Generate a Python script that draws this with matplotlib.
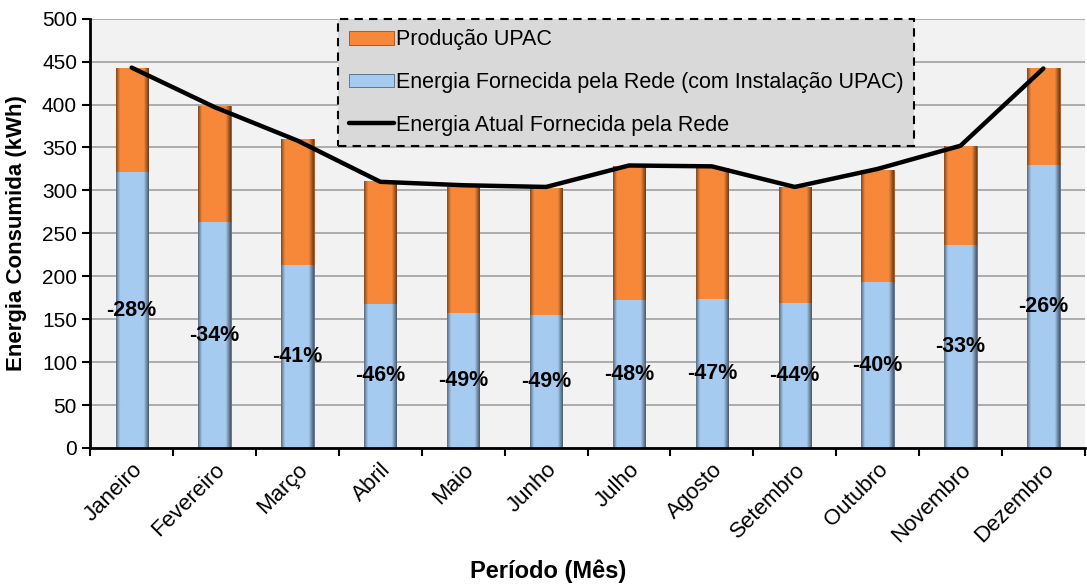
import matplotlib.pyplot as plt
import numpy as np

plt.rcParams['font.family'] = ['Liberation Sans', 'DejaVu Sans']

meses = ["Janeiro", "Fevereiro", "Março", "Abril", "Maio", "Junho",
         "Julho", "Agosto", "Setembro", "Outubro", "Novembro", "Dezembro"]
rede_upac = [321, 263, 213, 168, 157, 155, 172, 174, 169, 193, 236, 329]
producao = [122, 135, 147, 143, 147, 148, 156, 152, 135, 131, 116, 113]
atual = [443, 397, 358, 310, 306, 304, 329, 328, 304, 325, 352, 442]
reducao = ["-28%", "-34%", "-41%", "-46%", "-49%", "-49%",
           "-48%", "-47%", "-44%", "-40%", "-33%", "-26%"]

orange = "#F7883A"
blue = "#A6CBF0"


def bevel(ax, bars, color):
    # horizontal shading so the bars look a bit like the beveled Excel ones
    base = np.array(plt.matplotlib.colors.to_rgb(color))
    prof = np.ones(60)
    prof[:8] = np.linspace(0.55, 1.0, 8)
    prof[-10:] = np.linspace(1.0, 0.45, 10)
    img = np.clip(base[None, None, :] * prof[None, :, None], 0, 1)
    for b in bars:
        x0, y0 = b.get_x(), b.get_y()
        x1, y1 = x0 + b.get_width(), y0 + b.get_height()
        im = ax.imshow(img, extent=[x0, x1, y0, y1], aspect="auto",
                       zorder=2.1, interpolation="bilinear")
        im.set_clip_path(b)


fig = plt.figure(figsize=(10.87, 5.84), dpi=100)
ax = fig.add_axes([0.083, 0.233, 0.915, 0.735])
ax.set_facecolor("#F2F2F2")

x = np.arange(len(meses))
w = 0.39
b1 = ax.bar(x, rede_upac, w, color=blue, edgecolor="#4F6780", linewidth=0.6,
            label="Energia Fornecida pela Rede (com Instalação UPAC)", zorder=2)
b2 = ax.bar(x, producao, w, bottom=rede_upac, color=orange, edgecolor="#9A4E18",
            linewidth=0.6, label="Produção UPAC", zorder=2)
bevel(ax, b1, blue)
bevel(ax, b2, orange)
ax.plot(x, atual, color="black", lw=3.2, solid_capstyle="round",
        label="Energia Atual Fornecida pela Rede", zorder=3)

for xi, b, t in zip(x, rede_upac, reducao):
    ax.text(xi, b / 2, t, ha="center", va="center", fontsize=15.5,
            fontweight="bold", zorder=4)

ax.set_xlim(-0.5, len(meses) - 0.5)
ax.set_ylim(0, 500)
ax.set_yticks(np.arange(0, 501, 50))
ax.yaxis.grid(True, color="#A6A6A6", lw=1.3, zorder=0)
ax.set_axisbelow(True)

ax.set_xticks(np.arange(-0.5, len(meses)), minor=False)
ax.set_xticklabels([])
ax.set_xticks(x, minor=True)
ax.set_xticklabels(meses, minor=True, rotation=45, ha="right",
                   rotation_mode="anchor", fontsize=16)
ax.tick_params(axis="x", which="minor", length=0, pad=8)
ax.tick_params(axis="x", which="major", length=6, width=1.5)
ax.tick_params(axis="y", length=6, width=1.5, labelsize=15)

for s in ["top", "right"]:
    ax.spines[s].set_visible(False)
for s in ["left", "bottom"]:
    ax.spines[s].set_linewidth(2)

ax.set_ylabel("Energia Consumida (kWh)", fontsize=16, fontweight="bold")
ax.set_xlabel("Período (Mês)", fontsize=17, fontweight="bold")
ax.xaxis.set_label_coords(0.46, -0.26)
ax.yaxis.set_label_coords(-0.064, 0.5)

h, l = ax.get_legend_handles_labels()
order = [2, 1, 0]
leg = ax.legend([h[i] for i in order], [l[i] for i in order],
                loc="upper left", bbox_to_anchor=(0.249, 1.0),
                fontsize=15.5, frameon=True, fancybox=False,
                handlelength=2.1, handleheight=0.6, handletextpad=0.1,
                labelspacing=1.0, borderaxespad=0, borderpad=0.5)
fr = leg.get_frame()
fr.set_facecolor("#D9D9D9")
fr.set_edgecolor("black")
fr.set_linestyle((0, (4, 3)))
fr.set_linewidth(1.5)
fr.set_alpha(1)

fig.savefig("out.png", dpi=100)
